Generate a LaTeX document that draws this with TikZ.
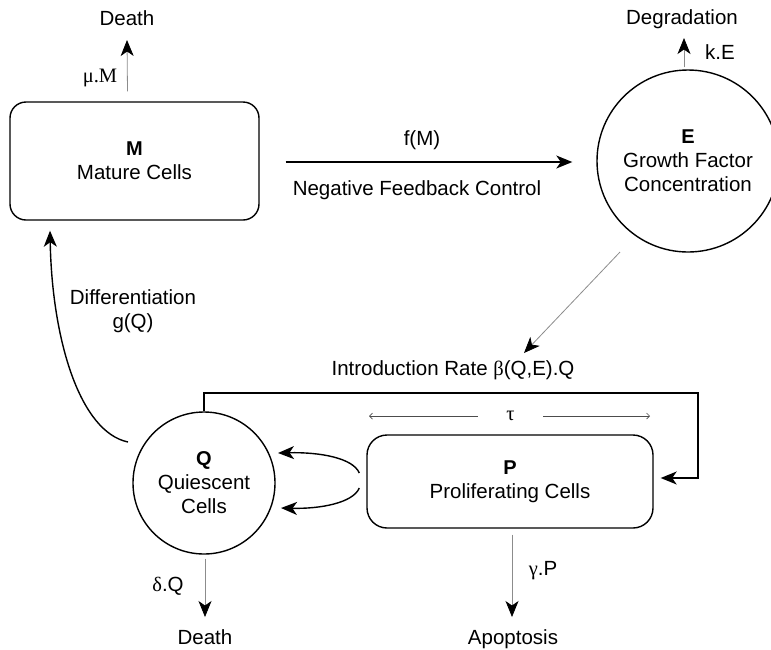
\documentclass[tikz,border=0pt]{standalone}
\usepackage{fontspec}
\setmainfont{Liberation Sans}
\newfontfamily\grk{Liberation Serif}
\usetikzlibrary{arrows.meta,calc}
\newcommand\bletter[1]{{\fontsize{20}{24}\selectfont\bfseries #1}}
\begin{document}
\begin{tikzpicture}[x=1pt,y=-1pt,
  every node/.style={font=\fontsize{20.5}{24}\selectfont, inner sep=0pt},
  lbl/.style={text height=14pt, text depth=0pt},
  rbox/.style={draw, line width=1.4pt, rounded corners=16pt, align=center},
  circ/.style={draw, circle, line width=1.4pt, align=center},
  main/.style={line width=1.4pt, -{Stealth[length=16pt,width=13pt,inset=4.5pt]}},
  thinarrow/.style={line width=0.8pt, draw=black!45, -{Stealth[length=16pt,width=13pt,inset=4.5pt,black]}},
  tauarrow/.style={line width=0.7pt, draw=black!70, -{Straight Barb[length=3pt,width=6pt]}}
]
\useasboundingbox (0,0) rectangle (771,649);

% Mature cells
\node[rbox, minimum width=249pt, minimum height=118pt] (M) at (134.5,161) {\bletter{M}\\Mature Cells};
\node[lbl] (deathM) at (127,18) {Death};
\draw[thinarrow] ($(M.north)+(-7,-10)$) -- ($(deathM.center)+(0,22)$);
\node[lbl] (mu) at (100,75) {\grk μ.M};

% Growth factor
\node[circ, minimum size=182pt] (E) at (688,161) {\bletter{E}\\Growth Factor\\Concentration};
\node[lbl] (degr) at (682,17) {Degradation};
\draw[thinarrow] ($(E.north)+(-4,-2)$) -- ($(degr.center)+(2,21)$);
\node[lbl] (kE) at (720,52) {k.E};

% feedback
\draw[main] ($(M.east)+(26,1)$) -- ($(E.west)+(-24,1)$);
\node[lbl] (fM) at (422,138) {f(M)};
\node[lbl] (nfc) at (417,188) {Negative Feedback Control};

% introduction
\node[lbl] (intro) at (453,368) {Introduction Rate {\grk β}(Q,E).Q};
\coordinate (Eout) at ($(E.center)+(-68,91)$);
\draw[thinarrow] (Eout) -- ($(intro.center)+(71,-15)$);

% Quiescent
\node[circ, minimum size=142pt] (Q) at (204,483) {\bletter{Q}\\Quiescent\\Cells};
\node[align=center] (diff) at (133,311) {Differentiation\\g(Q)};
\coordinate (dstart) at ($(Q.center)+(-76,-41)$);
\draw[main] (dstart) .. controls (80,432) and (52,340) .. ($(M.south)+(-84.5,10)$);

% Proliferating
\node[rbox, rounded corners=20pt, minimum width=286pt, minimum height=93pt] (P) at (510,481.5) {\bletter{P}\\Proliferating Cells};
\coordinate (corner) at (698,393);
\draw[main] (Q.north) |- (corner) |- ($(P.east)+(7,-3.5)$);

% tau
\node[minimum width=65pt] (tau) at (510.5,416) {\grk τ};
\coordinate (tauL) at (369,416);
\coordinate (tauR) at (650,416);
\draw[tauarrow] (tau.west) -- (tauL);
\draw[tauarrow] (tau.east) -- (tauR);

% loops back to Q
\draw[main] ($(P.west)+(-7,-8.5)$) .. controls (353,458) and (320,452) .. ($(Q.center)+(74,-30)$);
\draw[main] ($(P.west)+(-7,6.5)$) .. controls (353,503) and (320,509) .. ($(Q.center)+(77,25)$);

% bottom outputs
\node[lbl] (deathQ) at (205,637) {Death};
\draw[thinarrow] ($(Q.south)+(1,4)$) -- ($(deathQ.center)+(0,-20)$);
\node[lbl] (dQ) at (168,584) {{\grk δ}.Q};
\node[lbl] (apop) at (513,637) {Apoptosis};
\draw[thinarrow] ($(P.south)+(2,6)$) -- ($(apop.center)+(-1,-20)$);
\node[lbl] (gP) at (543,568) {{\grk γ}.P};
\end{tikzpicture}
\end{document}
